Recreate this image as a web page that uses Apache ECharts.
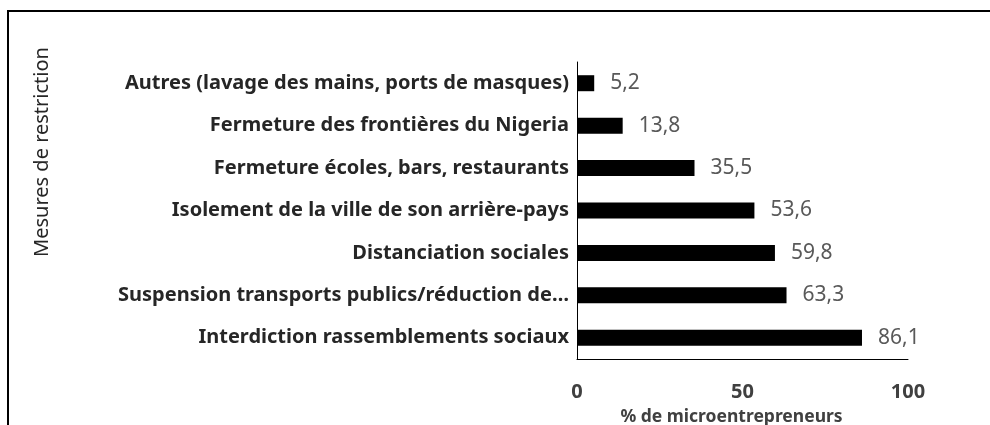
<!DOCTYPE html>
<html>
<head>
<meta charset="utf-8">
<script src="https://cdn.jsdelivr.net/npm/echarts@6/dist/echarts.min.js"></script>
<style>
  html, body { margin: 0; padding: 0; background: #fff; }
  #chart { width: 990px; height: 425px; }
</style>
</head>
<body>
<div id="chart"></div>
<script>
// mesures de restriction, du haut vers le bas
const categories = [
  'Autres (lavage des mains, ports de masques)',
  'Fermeture des frontières du Nigeria',
  'Fermeture écoles, bars, restaurants',
  'Isolement de la ville de son arrière-pays',
  'Distanciation sociales',
  'Suspension transports publics/réduction de…',
  'Interdiction rassemblements sociaux'
];
const values = [5.2, 13.8, 35.5, 53.6, 59.8, 63.3, 86.1];
const xTicks = [0, 50, 100];

const font = '"Noto Sans", sans-serif';

let chart = echarts.init(document.getElementById('chart'));
chart.setOption({
  animation: false,
  textStyle: { fontFamily: font },
  grid: { left: 577, right: 82, top: 62, bottom: 66, outerBoundsMode: 'none', containLabel: false },
  graphic: [{
    type: 'rect',
    shape: { x: 8, y: 11, width: 1100, height: 600 },
    style: { fill: 'none', stroke: '#000', lineWidth: 2 },
    silent: true
  }, {
    // titre de l'axe vertical
    type: 'text',
    x: 42,
    y: 152,
    rotation: Math.PI / 2,
    style: {
      text: 'Mesures de restriction',
      align: 'center',
      verticalAlign: 'middle',
      fill: '#262626',
      fontSize: 20,
      fontFamily: font
    }
  }],
  xAxis: {
    type: 'value',
    min: xTicks[0],
    max: xTicks[xTicks.length - 1],
    interval: xTicks[1] - xTicks[0],
    splitLine: { show: false },
    axisTick: { show: false },
    axisLine: { show: true, lineStyle: { color: '#000', width: 1 } },
    axisLabel: { color: '#404040', fontWeight: 'bold', fontSize: 20, margin: 23, fontFamily: font },
    name: '% de microentrepreneurs',
    nameLocation: 'middle',
    nameGap: 49,
    nameTextStyle: { color: '#404040', fontWeight: 'bold', fontSize: 17.5, padding: [0, 22, 0, 0], fontFamily: font }
  },
  yAxis: {
    type: 'category',
    inverse: true,
    data: categories,
    axisTick: { show: false },
    axisLine: { show: true, lineStyle: { color: '#000', width: 1 } },
    axisLabel: { color: '#262626', fontWeight: 'bold', fontSize: 20, margin: 8, fontFamily: font }
  },
  series: [{
    type: 'bar',
    data: values,
    barWidth: 16,
    itemStyle: { color: '#000' },
    label: {
      show: true,
      position: 'right',
      distance: 16,
      color: '#595959',
      fontSize: 21,
      fontFamily: font,
      formatter: p => String(p.value).replace('.', ',')
    }
  }]
});
</script>
</body>
</html>
